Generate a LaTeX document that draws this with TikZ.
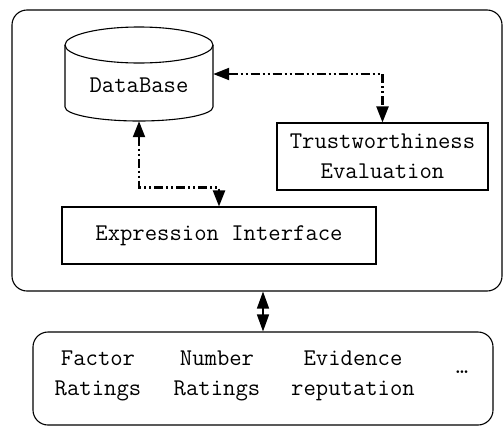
\documentclass[tikz,border=0pt]{standalone}
\usepackage{fontspec}
\usetikzlibrary{arrows.meta}

\begin{document}
\begin{tikzpicture}[x=1pt, y=-1pt,
  every node/.style = {font=\ttfamily\fontsize{24}{30}\selectfont,
    align=center, inner sep=0pt},
  box/.style = {draw, line width=1.1pt, rectangle},
  frame/.style = {draw, line width=1.1pt, rounded corners=15pt},
  link/.style = {line width=2.2pt,
    dash pattern=on 9pt off 3pt on 2pt off 3pt on 2pt off 3pt,
    {Triangle[length=16pt,width=12pt]}-{Triangle[length=16pt,width=12pt]}}]
  \useasboundingbox (0,0) rectangle (503,426);
  % upper part
  \node[frame, minimum width=490pt, minimum height=281pt] (system) at (257,150.5) {};
  \node[minimum width=148pt, minimum height=94pt] (db) at (139,74) {};
  \draw[line width=1.1pt] (139,45) ellipse (74 and 18);
  \draw[line width=1.1pt] (65,45) -- (65,107)
    arc[start angle=180, end angle=0, x radius=74, y radius=14] -- (213,45);
  \node (dbtext) at (139,85) {DataBase};
  \node[box, minimum width=211pt, minimum height=67pt] (trust) at (382.5,156.5)
    {Trustworthiness\\Evaluation};
  \node[box, minimum width=314pt, minimum height=57pt] (expr) at (219,235.5)
    {Expression Interface};
  \draw[link] (db.east) -| (trust.north);
  \draw[link] (db.south) |- ([yshift=19pt]expr.north) -- (expr.north);
  % lower part
  \node[frame, minimum width=460pt, minimum height=93pt] (sources) at (263,378.5) {};
  \node (factor) at (98,376) {Factor\\Ratings};
  \node (number) at (217,376) {Number\\Ratings};
  \node (evidence) at (353,376) {Evidence\\reputation};
  \node (more) at (462,372) {…};
  \draw[line width=1.4pt, {Triangle[length=17pt,width=12pt]}-{Triangle[length=17pt,width=12pt]}]
    (sources.north |- system.south) -- (sources.north);
\end{tikzpicture}
\end{document}
